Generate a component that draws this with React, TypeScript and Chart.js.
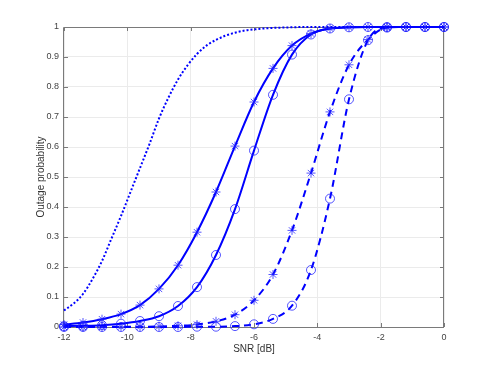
import React, { useEffect, useRef } from "react";
import { Chart, registerables } from "chart.js";

Chart.register(...registerables);

// SNR positions of the marker samples [dB]
const snrMarkers = [-12, -11.4, -10.8, -10.2, -9.6, -9.0, -8.4, -7.8, -7.2, -6.6, -6.0, -5.4, -4.8, -4.2, -3.6, -3.0, -2.4, -1.8, -1.2, -0.6, 0];

// Solid line, asterisk markers
const solidStar = [0.008, 0.015, 0.026, 0.043, 0.073, 0.127, 0.206, 0.316, 0.45, 0.603, 0.75, 0.862, 0.938, 0.978, 0.995, 0.999, 1, 1, 1, 1, 1];
// Solid line, circle markers
const solidCircle = [0.003, 0.004, 0.006, 0.011, 0.02, 0.036, 0.07, 0.133, 0.24, 0.393, 0.588, 0.774, 0.908, 0.975, 0.995, 0.999, 1, 1, 1, 1, 1];
// Dashed line, asterisk markers
const dashedStar = [0, 0, 0, 0.001, 0.001, 0.002, 0.004, 0.008, 0.019, 0.041, 0.089, 0.175, 0.322, 0.513, 0.717, 0.874, 0.958, 0.998, 1, 1, 1];
// Dashed line, circle markers
const dashedCircle = [0, 0, 0, 0, 0, 0, 0, 0.001, 0.001, 0.003, 0.009, 0.027, 0.071, 0.19, 0.428, 0.759, 0.956, 0.998, 1, 1, 1];

// Dotted line (no markers)
const snrDotted = [-12, -11.7, -11.4, -11.1, -10.8, -10.5, -10.2, -9.9, -9.6, -9.3, -9.0, -8.7, -8.4, -8.1, -7.8, -7.5, -7.2, -6.9, -6.6, -6.3, -6.0, -5.7, -5.4, -5.1, -4.8, -4.5, -4.2, -3.9, -3.6, -3.3, -3.0, -2.7, -2.4, -2.1, -1.8, -1.5, -1.2, -0.9, -0.6, -0.3, 0];
const dotted = [0.055, 0.078, 0.11, 0.16, 0.22, 0.295, 0.37, 0.45, 0.53, 0.61, 0.695, 0.765, 0.825, 0.872, 0.91, 0.938, 0.957, 0.971, 0.981, 0.988, 0.992, 0.995, 0.997, 0.998, 0.999, 1, 1, 1, 1, 1, 1, 1, 1, 1, 1, 1, 1, 1, 1, 1, 1];

const xTicks = [-12, -10, -8, -6, -4, -2, 0];
const xTickLabels = ["-12", "-10", "-8", "-6", "-4", "-2", "0"];
const yTicks = [0, 0.1, 0.2, 0.3, 0.4, 0.5, 0.6, 0.7, 0.8, 0.9, 1];
const yTickLabels = ["0", "0.1", "0.2", "0.3", "0.4", "0.5", "0.6", "0.7", "0.8", "0.9", "1"];

const xTitle = "SNR [dB]";
const yTitle = "Outage probability";

const BLUE = "#0000ff";
const MARKER = "rgba(30,30,255,0.75)";
const AXIS = "#7a7a7a";
const FONT = "'Liberation Sans', Arial, Helvetica, sans-serif";

const boxPlugin = {
  id: "matlabBox",
  beforeDatasetsDraw(chart: any) {
    const { ctx, chartArea, scales } = chart;
    const { left, right, top, bottom } = chartArea;
    ctx.save();
    ctx.strokeStyle = AXIS;
    ctx.lineWidth = 1;
    ctx.beginPath();
    ctx.rect(Math.round(left) - 0.5, Math.round(top) + 0.5, Math.round(right) - Math.round(left), Math.round(bottom) - Math.round(top));
    ctx.stroke();
    const tl = 4;
    ctx.beginPath();
    xTicks.forEach((v) => {
      const px = Math.round(scales.x.getPixelForValue(v)) + 0.5;
      ctx.moveTo(px, bottom);
      ctx.lineTo(px, bottom - tl);
      ctx.moveTo(px, top);
      ctx.lineTo(px, top + tl);
    });
    yTicks.forEach((v) => {
      const py = Math.round(scales.y.getPixelForValue(v)) + 0.5;
      ctx.moveTo(left, py);
      ctx.lineTo(left + tl, py);
      ctx.moveTo(right, py);
      ctx.lineTo(right - tl, py);
    });
    ctx.stroke();
    ctx.restore();
  },
};

export default function App() {
  const ref = useRef<HTMLCanvasElement | null>(null);

  useEffect(() => {
    if (!ref.current) return;
    const markerData = (ys: number[]) => snrMarkers.map((x, i) => ({ x, y: ys[i] }));
    const base = {
      borderColor: BLUE,
      borderWidth: 2,
      pointBorderColor: MARKER,
      pointBackgroundColor: "rgba(0,0,0,0)",
      pointBorderWidth: 1,
      pointRadius: 4.5,
      pointHoverRadius: 4.5,
      cubicInterpolationMode: "monotone" as const,
      fill: false,
      clip: false as const,
    };
    const chart = new Chart(ref.current, {
      type: "line",
      data: {
        datasets: [
          {
            ...base,
            label: "dotted",
            data: snrDotted.map((x, i) => ({ x, y: dotted[i] })),
            pointRadius: 0,
            borderDash: [2, 2],
          },
          { ...base, label: "solid *", data: markerData(solidStar), pointStyle: "star" },
          { ...base, label: "solid o", data: markerData(solidCircle), pointStyle: "circle" },
          { ...base, label: "dashed *", data: markerData(dashedStar), pointStyle: "star", borderDash: [7, 5] },
          { ...base, label: "dashed o", data: markerData(dashedCircle), pointStyle: "circle", borderDash: [7, 5] },
        ],
      },
      options: {
        animation: false,
        responsive: false,
        devicePixelRatio: 1,
        layout: { padding: { left: 0, right: 47, top: 27, bottom: 0 } },
        plugins: { legend: { display: false }, tooltip: { enabled: false } },
        events: [],
        scales: {
          x: {
            type: "linear",
            min: -12,
            max: 0,
            afterFit: (s: any) => {
              s.height = 41;
            },
            afterBuildTicks: (s: any) => {
              s.ticks = xTicks.map((v) => ({ value: v }));
            },
            ticks: {
              padding: 5,
              color: "#444",
              font: { family: FONT, size: 9 },
              callback: (v: any) => xTickLabels[xTicks.indexOf(Number(v))] ?? String(v),
              maxRotation: 0,
            },
            grid: { color: "#ebebeb", lineWidth: 1, drawTicks: false },
            border: { display: false },
            title: {
              display: true,
              text: xTitle,
              color: "#333",
              font: { family: FONT, size: 10 },
              padding: { top: 0, bottom: 13 },
            },
          },
          y: {
            type: "linear",
            min: 0,
            max: 1,
            afterFit: (s: any) => {
              s.width = 64;
            },
            afterBuildTicks: (s: any) => {
              s.ticks = yTicks.map((v) => ({ value: v }));
            },
            ticks: {
              padding: 5,
              color: "#444",
              font: { family: FONT, size: 9 },
              callback: (v: any) => {
                const i = yTicks.findIndex((t) => Math.abs(t - Number(v)) < 1e-9);
                return i >= 0 ? yTickLabels[i] : String(v);
              },
            },
            grid: { color: "#ebebeb", lineWidth: 1, drawTicks: false },
            border: { display: false },
            title: {
              display: true,
              text: yTitle,
              color: "#333",
              font: { family: FONT, size: 10 },
              padding: { top: 35, bottom: 0 },
            },
          },
        },
      },
      plugins: [boxPlugin],
    });
    return () => chart.destroy();
  }, []);

  return (
    <div style={{ position: "fixed", left: 0, top: 0, width: 491, height: 368, background: "#fff" }}>
      <canvas ref={ref} width={491} height={368} style={{ display: "block", width: 491, height: 368 }} />
    </div>
  );
}
